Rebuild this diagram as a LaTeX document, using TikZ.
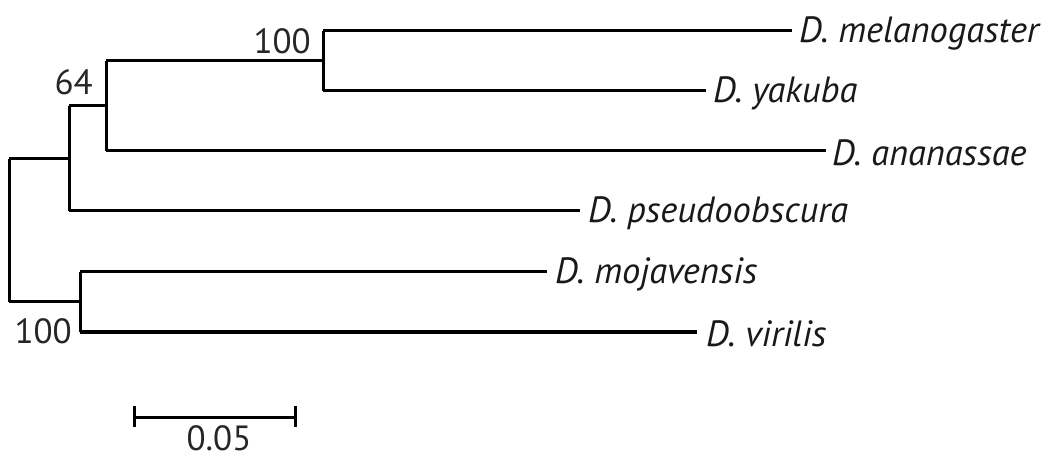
\documentclass[tikz,border=0pt]{standalone}
\usepackage{fontspec}
\setmainfont{PT Sans}
\begin{document}
\begin{tikzpicture}[x=1pt,y=-1pt,
  branch/.style={line width=3pt,line join=miter,draw=black},
  leaf/.style={anchor=west,inner sep=0pt,font=\fontsize{36.5}{40}\selectfont\itshape,text=black!90},
  boot/.style={anchor=base east,inner sep=0pt,font=\fontsize{35}{40}\selectfont,text=black!85}]
\useasboundingbox (0,0) rectangle (1053,457);
% internal coordinates
\coordinate (rt) at (9,159);
\coordinate (rb) at (9,302);
\coordinate (n1t) at (69,106);
\coordinate (n1b) at (69,211);
\coordinate (n2t) at (106,61);
\coordinate (n2b) at (106,151);
\coordinate (n3t) at (323,31);
\coordinate (n3b) at (323,91);
\coordinate (n4t) at (80,272);
\coordinate (n4b) at (80,332);
\coordinate (n1m) at (69,159);
\coordinate (n2m) at (106,106);
\coordinate (n3m) at (323,61);
\coordinate (n4m) at (80,302);
% leaf ends
\coordinate (emel) at (792,31);
\coordinate (eyak) at (706,91);
\coordinate (eana) at (826,151);
\coordinate (epse) at (580,211);
\coordinate (emoj) at (547,272);
\coordinate (evir) at (697,332);
% leaf labels
\node[leaf] (mel) at (799,33) {D. melanogaster};
\node[leaf] (yak) at (713,93) {D. yakuba};
\node[leaf] (ana) at (832,153) {D. ananassae};
\node[leaf] (pse) at (588,213) {D. pseudoobscura};
\node[leaf] (moj) at (555,274) {D. mojavensis};
\node[leaf] (vir) at (706,334) {D. virilis};
% bootstrap labels
\node[boot] (b1) at (311,54) {100};
\node[boot] (b2) at (93,95) {64};
\node[boot] (b3) at (72,344) {100};
% tree
\draw[branch] (rt) -- (rb);
\draw[branch] (rt) -- (n1m);
\draw[branch] (rb) -- (n4m);
\draw[branch] (n1t) -- (n1b);
\draw[branch] (n1t) -- (n2m);
\draw[branch] (n1b) -- (epse);
\draw[branch] (n2t) -- (n2b);
\draw[branch] (n2t) -- (n3m);
\draw[branch] (n2b) -- (eana);
\draw[branch] (n3t) -- (n3b);
\draw[branch] (n3t) -- (emel);
\draw[branch] (n3b) -- (eyak);
\draw[branch] (n4t) -- (n4b);
\draw[branch] (n4t) -- (emoj);
\draw[branch] (n4b) -- (evir);
% scale bar
\coordinate (sl) at (134,417);
\coordinate (sr) at (295,417);
\coordinate (slt) at (134,406);
\coordinate (slb) at (134,427);
\coordinate (srt) at (295,406);
\coordinate (srb) at (295,427);
\draw[branch] (sl) -- (sr);
\draw[branch] (slt) -- (slb);
\draw[branch] (srt) -- (srb);
\node[anchor=base,inner sep=0pt,font=\fontsize{35}{40}\selectfont,text=black!85] (sc) at (219,450) {0.05};
\end{tikzpicture}
\end{document}
